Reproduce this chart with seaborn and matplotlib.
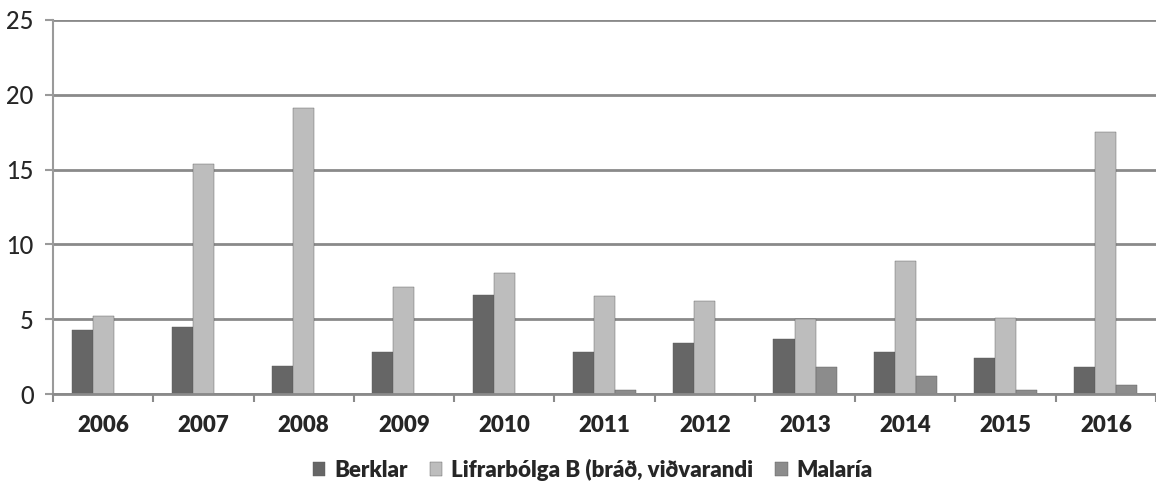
import pandas as pd
import seaborn as sns
import matplotlib.pyplot as plt
from matplotlib.ticker import FixedLocator

# data
years = ["2006", "2007", "2008", "2009", "2010", "2011", "2012", "2013", "2014", "2015", "2016"]
berklar = [4.3, 4.5, 1.9, 2.8, 6.6, 2.8, 3.4, 3.7, 2.8, 2.4, 1.8]
lifrarbolga = [5.2, 15.4, 19.1, 7.15, 8.1, 6.55, 6.2, 5.0, 8.9, 5.1, 17.5]
malaria = [0, 0, 0, 0, 0, 0.3, 0, 1.8, 1.2, 0.3, 0.6]
series = ["Berklar", "Lifrarbólga B (bráð, viðvarandi", "Malaría"]
colors = ["#666666", "#bdbdbd", "#8c8c8c"]

df = pd.DataFrame({"year": years, series[0]: berklar, series[1]: lifrarbolga, series[2]: malaria})
df_long = pd.melt(df, id_vars=["year"], var_name="series", value_name="value")

sns.set_style("white")
plt.rcParams["font.family"] = ["Lato", "DejaVu Sans"]

fig = plt.figure(figsize=(11.56, 4.9), dpi=100)
ax = fig.add_axes([53 / 1156, 1 - 394 / 490, 1 - 53 / 1156, 374 / 490])

sns.barplot(data=df_long, x="year", y="value", hue="series", hue_order=series,
            palette=colors, width=0.63, gap=0, saturation=1, ax=ax,
            edgecolor="#5a5a5a", linewidth=0.3, legend=True)

ax.set_ylim(0, 25)
ax.set_xlim(-0.5, 10.5)
ax.set_yticks([0, 5, 10, 15, 20, 25])
ax.yaxis.grid(True, color="#8a8a8a", linewidth=2)
ax.set_axisbelow(True)
ax.set_xlabel("")
ax.set_ylabel("")

for s in ["top", "right"]:
    ax.spines[s].set_visible(False)
ax.spines["left"].set_color("#9a9a9a")
ax.spines["left"].set_linewidth(1.5)
ax.spines["bottom"].set_color("#8a8a8a")
ax.spines["bottom"].set_linewidth(2)

ax.tick_params(axis="x", which="major", length=0, pad=15, labelsize=16)
ax.xaxis.set_minor_locator(FixedLocator([i - 0.5 for i in range(len(years) + 1)]))
ax.tick_params(axis="x", which="minor", length=6, width=1.5, color="#8a8a8a", direction="out")
ax.tick_params(axis="y", length=6, width=1.5, color="#9a9a9a", direction="out", labelsize=17, pad=8)
ax.yaxis.set_ticks_position("left")
ax.xaxis.set_ticks_position("bottom")
for lab in ax.get_xticklabels():
    lab.set_fontweight("heavy")
for lab in ax.get_yticklabels():
    lab.set_fontweight("medium")

handles, labels = ax.get_legend_handles_labels()
ax.legend(handles, labels, loc="center", bbox_to_anchor=(0.513, 1 - 470 / 490),
          bbox_transform=fig.transFigure, ncol=3, frameon=False,
          prop={"weight": "heavy", "size": 16}, handlelength=0.55, handleheight=0.55,
          handletextpad=0.4, columnspacing=1.0)

fig.savefig("out.png", dpi=100)
